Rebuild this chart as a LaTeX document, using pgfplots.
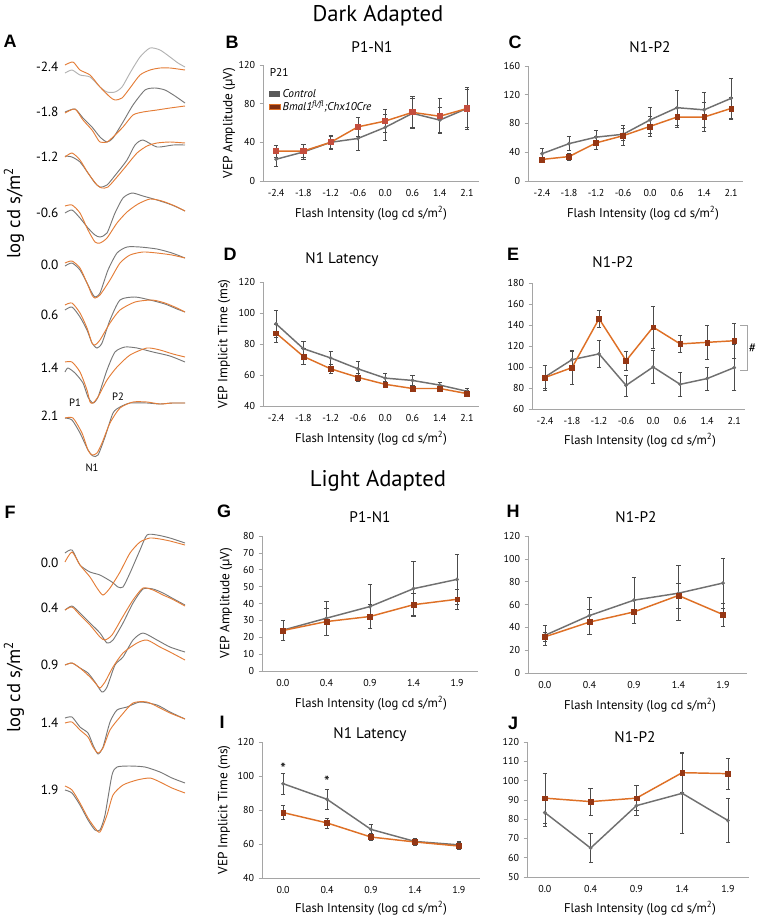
\documentclass[border=0pt]{standalone}
\usepackage{pgfplots}
\pgfplotsset{compat=1.18}
\usepackage{fontspec}
\setmainfont{PT Sans}
\newfontfamily\letterfont{Liberation Sans}
\definecolor{ctrl}{RGB}{112,112,112}
\definecolor{mut}{RGB}{222,112,38}
\definecolor{mutmk}{RGB}{150,55,20}
\definecolor{mutmkb}{RGB}{196,78,62}
\definecolor{ax}{RGB}{165,165,165}
\definecolor{trg}{RGB}{120,120,120}
\definecolor{tro}{RGB}{228,125,55}

\newcommand{\tl}{\fontsize{7.5}{8}\selectfont}
\newcommand{\ttl}{\fontsize{11.5}{13}\selectfont}
\newcommand{\lab}{\fontsize{9.5}{11}\selectfont}
\newcommand{\plet}[1]{{\letterfont\bfseries\fontsize{13.5}{15}\selectfont #1}}
\newcommand{\fint}{Flash Intensity (log cd s/m\textsuperscript{2})}

\pgfplotsset{
  panel/.style={scale only axis, clip=false,
    axis x line*=bottom, axis y line*=left,
    axis line style={draw=ax, line width=0.6pt},
    ytick style={draw=ax, line width=0.5pt}, xtick style={draw=none},
    major tick length=2.5pt, tick align=outside,
    tick label style={font=\tl},
    /pgf/number format/assume math mode=true},
  dark/.style={xtick={0,...,7}, xticklabels={-2.4,-1.8,-1.2,-0.6,0.0,0.6,1.4,2.1}},
  light/.style={xtick={0,...,4}, xticklabels={0.0,0.4,0.9,1.4,1.9}},
  ebars/.style={error bars/y dir=both, error bars/y explicit,
    error bars/error bar style={line width=0.5pt, draw=black!70},
    error bars/error mark options={rotate=90, mark size=1.6pt, line width=0.5pt, draw=black!70}},
  ctrlplot/.style={color=ctrl, line width=1.1pt, mark=*, mark size=1.3pt,
    mark options={fill=ctrl, draw=ctrl, line width=0.3pt}, ebars},
  mutplot/.style={color=mut, line width=1.1pt, mark=square*, mark size=1.8pt,
    mark options={fill=mutmk, draw=mutmk, line width=0.3pt}, ebars},
  trace/.style={line width=0.7pt, smooth, tension=0.4},
}

\begin{document}
\begin{tikzpicture}[x=0.75pt, y=-0.75pt]
\path[use as bounding box] (0,0) rectangle (760,916);
\coordinate (p0) at (0,916);
\coordinate (pB) at (263,181);
\coordinate (pC) at (528,181);
\coordinate (pD) at (263,406);
\coordinate (pE) at (532,409);
\coordinate (pG) at (262,671);
\coordinate (pH) at (528,673);
\coordinate (pI) at (262,878);
\coordinate (pJ) at (527,877);

% headings
\node[font=\fontsize{17}{19}\selectfont] at (378,16) {Dark Adapted};
\node[font=\fontsize{17}{19}\selectfont] at (378,481) {Light Adapted};
\node at (10,41) {\plet{A}};
\node at (232,42) {\plet{B}};
\node at (515,42) {\plet{C}};
\node at (230,254) {\plet{D}};
\node at (513,254) {\plet{E}};
\node at (10,512) {\plet{F}};
\node at (224,511) {\plet{G}};
\node at (513,511) {\plet{H}};
\node at (222,722) {\plet{I}};
\node at (513,723) {\plet{J}};

\node[font=\ttl] at (372,47) {P1-N1};
\node[font=\ttl] at (650,47) {N1-P2};
\node[font=\ttl] at (342,260) {N1 Latency};
\node[font=\ttl] at (613,262) {N1-P2};
\node[font=\ttl] at (370,517) {P1-N1};
\node[font=\ttl] at (636,517) {N1-P2};
\node[font=\ttl] at (370,735) {N1 Latency};
\node[font=\ttl] at (635,737) {N1-P2};

\node[font=\lab] at (371,213) {\fint};
\node[font=\lab] at (643,213) {\fint};
\node[font=\lab] at (371,438) {\fint};
\node[font=\lab] at (640,440) {\fint};
\node[font=\lab] at (371,703) {\fint};
\node[font=\lab] at (640,705) {\fint};
\node[font=\lab] at (371,908) {\fint};
\node[font=\lab] at (640,908) {\fint};

\node[font=\fontsize{10}{11}\selectfont, rotate=90] at (229,123) {VEP Amplitude (μV)};
\node[font=\fontsize{10}{11}\selectfont, rotate=90] at (224,344) {VEP Implicit Time (ms)};
\node[font=\fontsize{10}{11}\selectfont, rotate=90] at (226,603) {VEP Amplitude (μV)};
\node[font=\fontsize{10}{11}\selectfont, rotate=90] at (224,810) {VEP Implicit Time (ms)};

\node[font=\fontsize{14}{16}\selectfont, rotate=90] at (14,213) {log cd s/m\textsuperscript{2}};
\node[font=\fontsize{14}{16}\selectfont, rotate=90] at (14,687) {log cd s/m\textsuperscript{2}};

% ---------- trace panels A and F (pixel coordinates)
\begin{axis}[at={(p0)}, anchor=south west, scale only axis, width=570pt, height=687pt,
  xmin=0, xmax=760, ymin=0, ymax=916, y dir=reverse, hide axis, clip=false]
% -2.4
\addplot[trace, color=black!30] coordinates {(65,73)(72,70)(80,75)(90,77)(100,87)(107,92)(115,92)(122,87)(130,73)(140,57)(150,48)(160,50)(170,57)(178,63)(185,67)};
\addplot[trace, color=tro] coordinates {(65,65)(73,62)(80,70)(90,75)(100,87)(110,97)(115,100)(122,98)(130,88)(140,75)(150,70)(160,68)(170,68)(178,69)(185,70)};
% -1.8
\addplot[trace, color=trg] coordinates {(65,112)(75,109)(83,118)(92,127)(100,137)(107,142)(113,138)(123,122)(133,105)(145,90)(155,88)(165,90)(175,96)(185,103)};
\addplot[trace, color=tro] coordinates {(65,113)(75,109)(83,120)(92,130)(97,138)(100,142)(107,142)(113,137)(123,127)(133,115)(143,112)(157,110)(170,108)(185,106)};
% -1.2
\addplot[trace, color=trg] coordinates {(65,156)(72,157)(80,162)(88,173)(95,183)(100,187)(107,185)(117,173)(127,160)(135,145)(143,140)(157,147)(173,145)(185,145)};
\addplot[trace, color=tro] coordinates {(65,157)(72,153)(80,160)(88,173)(97,185)(102,188)(108,187)(117,177)(127,165)(137,153)(147,146)(157,143)(170,142)(185,143)};
% -0.6
\addplot[trace, color=trg] coordinates {(65,213)(72,210)(80,218)(88,228)(95,235)(100,237)(107,233)(115,213)(123,198)(132,193)(143,196)(157,200)(172,205)(185,211)};
\addplot[trace, color=tro] coordinates {(65,206)(72,205)(80,213)(88,230)(95,242)(100,243)(107,238)(117,223)(127,212)(138,204)(150,199)(162,201)(175,206)(185,211)};
% 0.0
\addplot[trace, color=trg] coordinates {(65,266)(72,263)(80,270)(87,283)(92,293)(95,297)(100,293)(108,270)(117,253)(127,247)(140,247)(157,249)(172,253)(185,258)};
\addplot[trace, color=tro] coordinates {(65,263)(72,261)(80,268)(87,283)(92,295)(95,298)(100,295)(110,280)(120,263)(130,255)(143,252)(157,253)(172,255)(185,258)};
% 0.6
\addplot[trace, color=trg] coordinates {(65,310)(72,307)(80,317)(87,330)(92,343)(97,348)(102,343)(110,320)(120,300)(135,297)(150,300)(165,304)(177,309)(185,312)};
\addplot[trace, color=tro] coordinates {(65,305)(72,303)(80,313)(87,328)(92,343)(95,345)(100,340)(110,323)(120,310)(135,302)(152,300)(165,303)(177,308)(185,312)};
% 1.4
\addplot[trace, color=trg] coordinates {(65,372)(68,368)(75,373)(83,383)(88,397)(93,403)(98,397)(107,370)(115,352)(125,347)(137,348)(153,352)(170,356)(185,362)};
\addplot[trace, color=tro] coordinates {(65,362)(72,362)(80,372)(87,390)(90,402)(93,403)(98,397)(107,380)(117,367)(130,355)(147,348)(160,350)(173,354)(185,357)};
% 2.1
\addplot[trace, color=trg] coordinates {(65,418)(72,420)(80,433)(88,450)(93,456)(98,455)(105,437)(113,413)(120,407)(130,403)(147,403)(160,404)(172,403)(185,403)};
\addplot[trace, color=tro] coordinates {(65,418)(73,418)(82,433)(88,450)(92,455)(97,453)(102,443)(110,423)(120,408)(133,402)(147,402)(160,404)(172,403)(185,403)};
% F 0.0
\addplot[trace, color=trg] coordinates {(65,553)(72,550)(80,565)(90,572)(100,575)(112,582)(118,587)(123,587)(130,573)(140,550)(147,535)(157,535)(170,538)(185,543)};
\addplot[trace, color=tro] coordinates {(65,562)(72,552)(80,565)(90,577)(97,588)(103,595)(110,588)(120,572)(130,553)(140,542)(150,538)(160,539)(170,541)(185,545)};
% F 0.4
\addplot[trace, color=trg] coordinates {(65,610)(72,606)(80,613)(90,623)(100,633)(107,643)(113,640)(123,623)(133,603)(143,589)(153,589)(163,593)(172,598)(185,605)};
\addplot[trace, color=tro] coordinates {(65,610)(72,607)(80,615)(90,625)(100,637)(105,640)(112,635)(122,618)(133,600)(143,588)(153,590)(163,595)(172,599)(185,606)};
% F 0.9
\addplot[trace, color=trg] coordinates {(65,665)(72,663)(80,668)(88,673)(95,682)(102,692)(107,687)(115,665)(123,657)(133,640)(143,633)(157,640)(170,647)(185,652)};
\addplot[trace, color=tro] coordinates {(65,665)(72,663)(80,668)(90,677)(97,685)(100,688)(105,682)(113,667)(123,653)(137,643)(147,640)(160,647)(170,652)(185,660)};
% F 1.4
\addplot[trace, color=trg] coordinates {(65,718)(72,717)(80,727)(88,733)(93,745)(98,754)(103,747)(110,722)(117,710)(127,707)(140,702)(157,705)(170,712)(185,719)};
\addplot[trace, color=tro] coordinates {(65,723)(72,722)(80,730)(88,737)(93,747)(98,753)(103,748)(110,730)(120,717)(133,703)(147,702)(160,708)(170,713)(185,719)};
% F 1.9
\addplot[trace, color=trg] coordinates {(65,790)(72,793)(80,805)(88,820)(95,830)(100,830)(105,815)(112,775)(117,767)(130,766)(145,767)(160,772)(172,778)(185,783)};
\addplot[trace, color=tro] coordinates {(65,786)(72,790)(80,803)(88,818)(95,828)(100,832)(107,815)(113,795)(123,785)(137,780)(150,778)(160,782)(172,788)(185,793)};

\foreach \v/\y in {-2.4/67,-1.8/112,-1.2/157,-0.6/213,0.0/265,0.6/315,1.4/368,2.1/416,0.0/563,0.4/608,0.9/665,1.4/723,1.9/790}{
  \edef\tmp{\noexpand\node[anchor=east, font=\noexpand\fontsize{10}{11}\noexpand\selectfont] at (axis cs:63,\y) {\v};}\tmp
}
\node[font=\fontsize{8}{9}\selectfont] at (axis cs:75,403) {P1};
\node[font=\fontsize{8}{9}\selectfont] at (axis cs:118,397) {P2};
\node[font=\fontsize{8}{9}\selectfont] at (axis cs:92,468) {N1};
\end{axis}

% ---------- B
\begin{axis}[panel, dark, at={(pB)}, anchor=south west, width=162pt, height=87pt,
  xmin=-0.48, xmax=7.44, ymin=0, ymax=120, ytick={0,40,80,120},
  legend style={at={(0.02,0.83)}, anchor=north west, draw=none, fill=none,
    font=\fontsize{8.5}{9.5}\selectfont\itshape, row sep=-2.5pt, inner sep=1pt},
  legend cell align=left,
  legend image code/.code={\fill[#1] (0,-0.07cm) rectangle (0.28cm,0.07cm);}]
\addlegendimage{fill=black!65, draw=none}
\addlegendentry{Control}
\addlegendimage{fill=mutmk!85!black, draw=mut}
\addlegendentry{Bmal1\textsuperscript{fl/fl};Chx10Cre}
\addplot[forget plot, ctrlplot] table[x=x, y=y, y error=e] {
x y e
0 22.5 7
1 30 8
2 40 6
3 44 12
4 55.5 13
5 70 15
6 63 13
7 75 20
};
\addplot[forget plot, mutplot, mark options={fill=mutmkb, draw=mutmkb}] table[x=x, y=y, y error=e] {
x y e
0 31 6
1 31 7
2 40 7
3 56 10
4 62 12
5 71 17
6 67 18
7 75 22
};
\node[anchor=west, font=\fontsize{8.5}{9.5}\selectfont] at (axis cs:-0.4,112) {P21};
\end{axis}

% ---------- C
\begin{axis}[panel, dark, at={(pC)}, anchor=south west, width=161.25pt, height=86.25pt,
  xmin=-0.52, xmax=7.44, ymin=0, ymax=160, ytick={0,40,80,120,160}]
\addplot[ctrlplot] table[x=x, y=y, y error=e] {
x y e
0 38 8
1 52 10
2 61 9
3 65 8
4 85 18
5 102 24
6 99 24
7 115 28
};
\addplot[mutplot] table[x=x, y=y, y error=e] {
x y e
0 30 3
1 34 5
2 53 9
3 63 14
4 76 14
5 89 14
6 89 20
7 101 15
};
\end{axis}

% ---------- D
\begin{axis}[panel, dark, at={(pD)}, anchor=south west, width=162pt, height=93pt,
  xmin=-0.48, xmax=7.44, ymin=40, ymax=120, ytick={40,60,...,120}]
\addplot[ctrlplot] table[x=x, y=y, y error=e] {
x y e
0 93 9
1 77 5
2 71 4
3 64 5
4 58 3
5 56.5 3
6 53.5 2
7 49.5 2
};
\addplot[mutplot] table[x=x, y=y, y error=e] {
x y e
0 87 6
1 72 5
2 64 3
3 58.5 2.5
4 54 2
5 51.3 2
6 51.3 2
7 48 2
};
\end{axis}

% ---------- E
\begin{axis}[panel, dark, at={(pE)}, anchor=south west, width=159.75pt, height=94.5pt,
  xmin=-0.48, xmax=7.4, ymin=60, ymax=180, ytick={60,80,...,180}]
\addplot[ctrlplot] table[x=x, y=y, y error=e] {
x y e
0 90.5 11
1 107 8
2 112.5 13
3 82.5 10
4 100 16
5 83.5 11
6 89 11
7 99.4 22
};
\addplot[mutplot] table[x=x, y=y, y error=e] {
x y e
0 90 12
1 99.4 16
2 146 8
3 106 9
4 138 20
5 122 8
6 123.5 16
7 125 17
};
\draw[ax, line width=0.6pt] (axis cs:7.22,140) -- (axis cs:7.48,140) -- (axis cs:7.48,97) -- (axis cs:7.22,97);
\node[font=\fontsize{10}{11}\selectfont] at (axis cs:7.68,118) {\#};
\end{axis}

% ---------- G
\begin{axis}[panel, light, at={(pG)}, anchor=south west, width=162pt, height=101.25pt,
  xmin=-0.48, xmax=4.48, ymin=0, ymax=80, ytick={0,10,...,80}]
\addplot[ctrlplot] table[x=x, y=y, y error=e] {
x y e
0 24.2 6
1 31.3 10
2 38.2 13
3 48.8 16
4 54.3 15
};
\addplot[mutplot] table[x=x, y=y, y error=e] {
x y e
0 24 6
1 29.3 8
2 32.3 7
3 39.3 7
4 42.5 6
};
\end{axis}

% ---------- H
\begin{axis}[panel, light, at={(pH)}, anchor=south west, width=164.25pt, height=102.75pt,
  xmin=-0.38, xmax=4.54, ymin=0, ymax=120, ytick={0,20,...,120}]
\addplot[ctrlplot] table[x=x, y=y, y error=e] {
x y e
0 33 9
1 50.3 16
2 63.8 20
3 69.9 24
4 78.8 22
};
\addplot[mutplot] table[x=x, y=y, y error=e] {
x y e
0 31.7 4
1 44.6 11
2 53.5 10
3 67.9 11
4 51.2 10
};
\end{axis}

% ---------- I
\begin{axis}[panel, light, at={(pI)}, anchor=south west, width=163.5pt, height=102pt,
  xmin=-0.48, xmax=4.48, ymin=40, ymax=120, ytick={40,60,...,120}]
\addplot[ctrlplot] table[x=x, y=y, y error=e] {
x y e
0 95.5 6
1 86.3 6
2 68.6 3
3 61.5 2
4 59.5 2
};
\addplot[mutplot] table[x=x, y=y, y error=e] {
x y e
0 78.5 4
1 72.4 3
2 64.1 2
3 61.2 2
4 58.8 2
};
\node[font=\fontsize{12}{13}\selectfont] at (axis cs:0,104) {*};
\node[font=\fontsize{12}{13}\selectfont] at (axis cs:1,96.5) {*};
\end{axis}

% ---------- J
\begin{axis}[panel, light, at={(pJ)}, anchor=south west, width=166.5pt, height=101.25pt,
  xmin=-0.39, xmax=4.46, ymin=50, ymax=120, ytick={50,60,...,120}]
\addplot[ctrlplot] table[x=x, y=y, y error=e] {
x y e
0 83.4 7
1 65 7.5
2 87 5
3 93.4 21
4 79.3 11.5
};
\addplot[mutplot] table[x=x, y=y, y error=e] {
x y e
0 90.9 13
1 89.1 7
2 90.9 6.5
3 104.1 10
4 103.6 8
};
\end{axis}
\end{tikzpicture}
\end{document}
